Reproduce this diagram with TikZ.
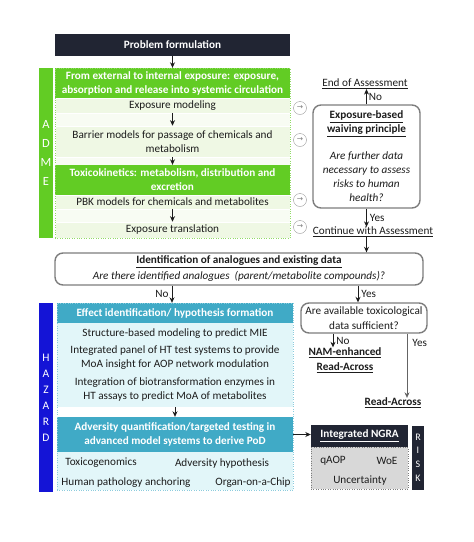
\documentclass[tikz,border=0pt]{standalone}
\usepackage{fontspec}
\setmainfont{Carlito}
\newfontfamily\arrowfont{DejaVu Sans}
\usetikzlibrary{arrows.meta}
\usepackage{xcolor}
\definecolor{ngranavy}{RGB}{33, 37, 51}
\definecolor{admegreen}{RGB}{98, 204, 36}
\definecolor{admelight}{RGB}{239, 248, 228}
\definecolor{hazteal}{RGB}{64, 170, 198}
\definecolor{hazlight}{RGB}{226, 246, 249}
\definecolor{hazblue}{RGB}{20, 20, 214}
\definecolor{boxgray}{RGB}{125, 125, 125}
\definecolor{riskgray}{RGB}{216, 216, 216}
\definecolor{textdark}{RGB}{28, 28, 28}

\begin{document}
\begin{tikzpicture}[x=1pt, y=-1pt, >={Stealth[length=5.5pt,width=5pt]},
    every node/.style={inner sep=0pt, align=center, text=textdark, font=\fontsize{11.2}{14}\selectfont},
    headbox/.style={text=white, font=\fontsize{11.2}{14}\selectfont\bfseries, minimum width=235},
    admerow/.style={fill=admelight, draw=white, line width=0.6pt, minimum width=235},
    admegap/.style={fill=admelight!45, draw=white, line width=0.6pt, minimum width=235},
    qbox/.style={draw=boxgray, line width=1.4pt, rounded corners=8pt, fill=white},
    sidebar/.style={text=white, minimum width=14, font=\fontsize{12.5}{19.3}\selectfont},
    icon/.style={circle, draw=boxgray!80, minimum size=13, text=boxgray, font=\arrowfont\fontsize{7.5}{7.5}\selectfont},
    link/.style={->, textdark, line width=0.8pt}]
                \useasboundingbox (0,0) rectangle (474,542);

                % Problem formulation
                \node[headbox, fill=ngranavy, minimum height=22] (problem) at (172.5,45) {Problem formulation};

                % ADME block
                \node[sidebar, fill=admegreen, minimum height=170] (admebar) at (46,153) {A\\D\\M\\E};
                \node[headbox, fill=admegreen, minimum height=30] (admehead1) at (172.5,83) {From external to internal exposure: exposure,\\absorption and release into systemic circulation};
                \node[admerow, minimum height=15] (exposmod) at (172.5,105.5) {Exposure modeling};
                \node[admegap, minimum height=13] (gap1) at (172.5,119.5) {};
                \node[admerow, minimum height=31] (barrier) at (172.5,141.5) {Barrier models for passage of chemicals and\\metabolism};
                \node[admegap, minimum height=8] (gap2) at (172.5,161) {};
                \node[headbox, fill=admegreen, minimum height=30] (admehead2) at (172.5,180) {Toxicokinetics: metabolism, distribution and\\excretion};
                \node[admerow, minimum height=14] (pbk) at (172.5,202) {PBK models for chemicals and metabolites};
                \node[admegap, minimum height=13] (gap3) at (172.5,215.5) {};
                \node[admerow, minimum height=16] (expostrans) at (172.5,230) {Exposure translation};
                \node[draw=admegreen!70, dotted, minimum width=235, minimum height=170] (admebox) at (172.5,153) {};
                \draw[link] (problem) -- (admehead1);
                \draw[link] (exposmod) -- (barrier);
                \draw[link] (barrier) -- (admehead2);
                \draw[link] (pbk) -- (expostrans);

                % Icons
                \node[icon] (icon1) at (300,108) {→};
                \node[icon] (icon2) at (300,140) {→};
                \node[icon] (icon3) at (300,200) {→};
                \node[icon] (icon4) at (300,227) {→};

                % Waiving principle
                \node[qbox, minimum width=107, minimum height=103] (waive) at (366.5,156.5) {\underline{\textbf{Exposure-based}}\\\underline{\textbf{waiving principle}}\\[13pt]\textit{Are further data}\\\textit{necessary to assess}\\\textit{risks to human}\\\textit{health?}};
                \node (endass) at (365,84) {\underline{End of Assessment}};
                \node (contass) at (373,232) {\underline{Continue with Assessment}};
                \draw[link] (waive.north) -- (waive.north |- endass.south) node[midway, right=2pt] {No};
                \draw[link] (waive.south) -- (waive.south |- contass.north) node[midway, right=3pt] {Yes};

                % Identification of analogues
                \node[qbox, minimum width=368, minimum height=32] (ident) at (239,269) {\underline{\textbf{Identification of analogues and existing data}}\\[2pt]\textit{Are there identified analogues\ \ (parent/metabolite compounds)?}};
                \draw[link] (contass.south -| waive.south) -- (ident.north -| waive.south);

                % HAZARD block
                \node[sidebar, fill=hazblue, minimum height=189, font=\fontsize{11.5}{16}\selectfont] (hazbar) at (46,397.5) {H\\A\\Z\\A\\R\\D};
                \node[headbox, fill=hazteal, minimum width=236, minimum height=20] (hazhead1) at (175,313) {Effect identification/ hypothesis formation};
                \node[fill=hazlight, minimum width=236, minimum height=84] (hazbody1) at (175,365) {Structure-based modeling to predict MIE\\[3pt]Integrated panel of HT test systems to provide\\MoA insight for AOP network modulation\\[4pt]Integration of biotransformation enzymes in\\HT assays to predict MoA of metabolites};
                \node[headbox, fill=hazteal, minimum width=236, minimum height=35] (hazhead2) at (175,434.5) {Adversity quantification/targeted testing in\\advanced model systems to derive PoD};
                \node[fill=hazlight, minimum width=236, minimum height=38] (hazbody2) at (175,471) {};
                \node (toxgen) at (101,463) {Toxicogenomics};
                \node (advhyp) at (222,464) {Adversity hypothesis};
                \node (humpath) at (126,483) {Human pathology anchoring};
                \node (organ) at (253,483) {Organ-on-a-Chip};
                \node[draw=hazteal!60, dotted, minimum width=236, minimum height=187] (hazbox) at (175,396.5) {};
                \draw[link] (hazbody1) -- (hazhead2);

                % Read-across branch
                \coordinate (nox) at (172,0);
                \coordinate (yesx) at (358,0);
                \coordinate (namx) at (333,0);
                \coordinate (readx) at (407,0);
                \node[qbox, minimum width=126, minimum height=30] (tox) at (364,318) {Are available toxicological\\[1pt]data sufficient?};
                \node (nam) at (345,360) {\underline{\textbf{NAM-enhanced}}\\[1pt]\underline{\textbf{Read-Across}}};
                \node (readac) at (393,403) {\underline{\textbf{Read-Across}}};
                \draw[link] (ident.south -| nox) -- (hazhead1.north -| nox) node[midway, left=3pt] {No};
                \draw[link] (ident.south -| yesx) -- (tox.north -| yesx) node[midway, right=3pt] {Yes};
                \draw[link] (tox.south -| namx) -- (nam.north -| namx) node[midway, right=3pt] {No};
                \draw[link, boxgray!80!black] (tox.south -| readx) -- (readac.north -| readx) node[pos=0.15, right=5pt] {Yes};

                % Integrated NGRA
                \node[headbox, fill=ngranavy, minimum width=97, minimum height=22] (ngrahead) at (359.5,436) {\underline{Integrated NGRA}};
                \node[fill=riskgray, draw=boxgray, dotted, minimum width=97, minimum height=42] (ngrabody) at (359.5,468) {};
                \node (qaop) at (333,461) {qAOP};
                \node (woe) at (387,461) {WoE};
                \node (uncert) at (360,481) {Uncertainty};
                \node[sidebar, fill=ngranavy, minimum width=12, minimum height=64, font=\fontsize{10}{13.7}\selectfont] (riskbar) at (418,457.5) {R\\I\\S\\K};
                \draw[link] (hazhead2.east) -- (ngrahead.west |- hazhead2.east);
            \end{tikzpicture}
\end{document}
